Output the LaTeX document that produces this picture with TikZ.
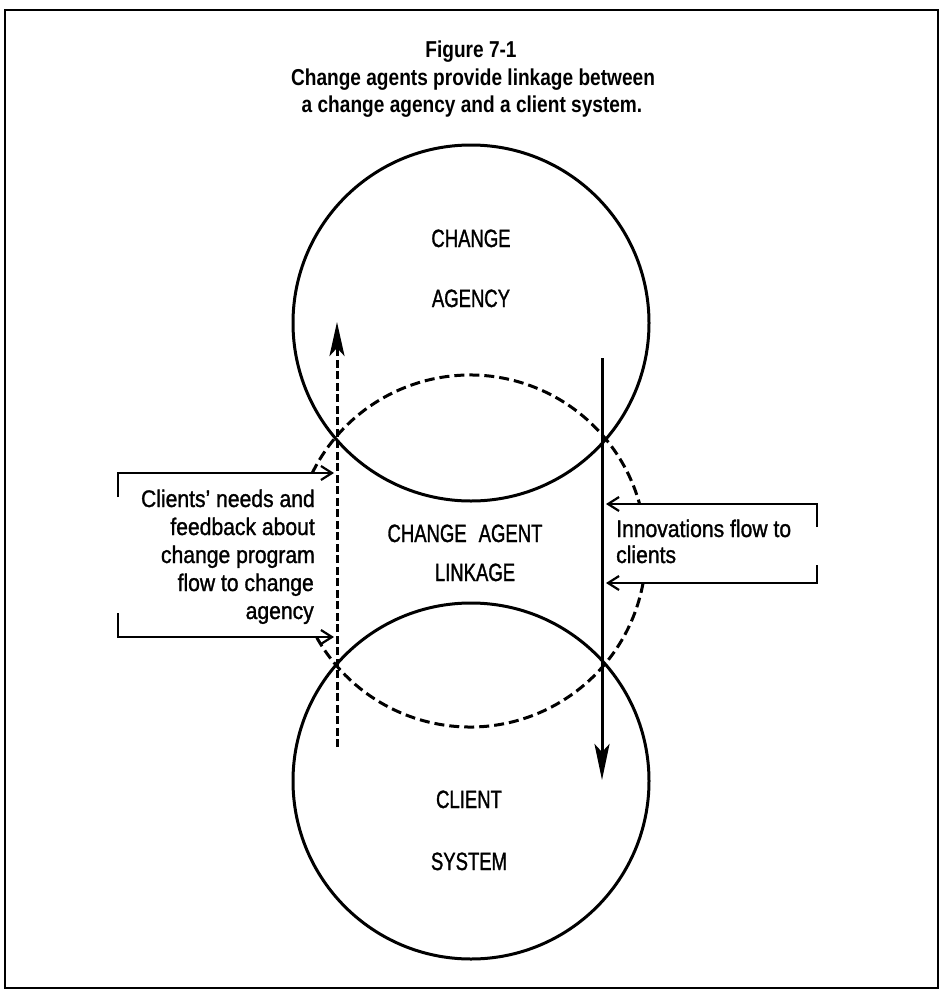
\documentclass[tikz,border=0pt]{standalone}
\usepackage{fontspec}
\setmainfont{Liberation Sans}[FakeStretch=0.88,FakeBold=1.2]
\newfontfamily\titlefont{Liberation Sans}[FakeStretch=0.83]
\newfontfamily\capsfont{Liberation Sans}[FakeStretch=0.74,FakeBold=1.2]
\usetikzlibrary{arrows.meta}
\begin{document}
\begin{tikzpicture}[x=1pt,y=-1pt,
  frame/.style={line width=2.6pt},
  bigcircle/.style={circle,draw,line width=3pt,minimum size=356pt,inner sep=0pt},
  dashcirc/.style={line width=3pt,dash pattern=on 10pt off 5pt},
  feedback/.style={line width=3pt,dash pattern=on 8pt off 3.5pt,-{Stealth[length=34pt,width=15pt,inset=8pt]}},
  innov/.style={line width=3pt,-{Stealth[length=36pt,width=15pt,inset=8pt]}},
  bracket/.style={line width=2.2pt,-{Straight Barb[length=11pt,width=14pt]}},
  titletext/.style={anchor=base,inner sep=0pt,font=\titlefont\bfseries\fontsize{23}{28}\selectfont},
  capslabel/.style={anchor=base,inner sep=0pt,font=\capsfont\fontsize{25}{30}\selectfont},
  lefttext/.style={anchor=base east,inner sep=0pt,font=\fontsize{24}{28}\selectfont},
  righttext/.style={anchor=base west,inner sep=0pt,font=\fontsize{24}{28}\selectfont}]
\useasboundingbox (0,0) rectangle (941,996);
\draw[frame] (5,10) rectangle (938,988);

% title
\node[titletext] (t1) at (471,57) {Figure 7-1};
\node[titletext] (t2) at (473,85) {Change agents provide linkage between};
\node[titletext] (t3) at (472,112) {a change agency and a client system.};

% circles
\node[bigcircle] (agency) at (471,323) {};
\node[bigcircle] (client) at (471,781) {};
\coordinate (linkc) at (470,551);
\draw[dashcirc] (linkc) ++(10.5:176) arc[start angle=10.5,end angle=150.8,radius=176];
\draw[dashcirc] (linkc) ++(206.3:176) arc[start angle=206.3,end angle=344.5,radius=176];

% circle labels
\node[capslabel] (ca1) at (471,247) {CHANGE};
\node[capslabel] (ca2) at (471,307) {AGENCY};
\node[capslabel] (li1) at (465,542) {CHANGE\hspace{12pt}AGENT};
\node[capslabel] (li2) at (475,581) {LINKAGE};
\node[capslabel] (cs1) at (469,808) {CLIENT};
\node[capslabel] (cs2) at (469,870) {SYSTEM};

% flows
\coordinate (fbtail) at (337,747);
\coordinate (fbhead) at (337,322);
\draw[feedback] (fbtail) -- (fbhead);
\coordinate (intop) at (602,358);
\coordinate (inbot) at (602,780);
\draw[innov] (intop) -- (inbot);

% left bracket
\coordinate (lu0) at (118,497);
\coordinate (lu1) at (334,473);
\coordinate (ll0) at (118,613);
\coordinate (ll1) at (334,637);
\draw[bracket] (lu0) |- (lu1);
\draw[bracket] (ll0) |- (ll1);

% right bracket
\coordinate (ru0) at (817,527);
\coordinate (ru1) at (606,504);
\coordinate (rl0) at (817,565);
\coordinate (rl1) at (606,583);
\draw[bracket] (ru0) |- (ru1);
\draw[bracket] (rl0) |- (rl1);

% left text
\node[lefttext] (l1) at (315,507) {Clients{\char"0027} needs and};
\node[lefttext] (l2) at (315,535) {feedback about};
\node[lefttext] (l3) at (315,563) {change program};
\node[lefttext] (l4) at (314,591) {flow to change};
\node[lefttext] (l5) at (314,619) {agency};

% right text
\node[righttext] (r1) at (616,537) {Innovations flow to};
\node[righttext] (r2) at (616,563) {clients};
\end{tikzpicture}
\end{document}
